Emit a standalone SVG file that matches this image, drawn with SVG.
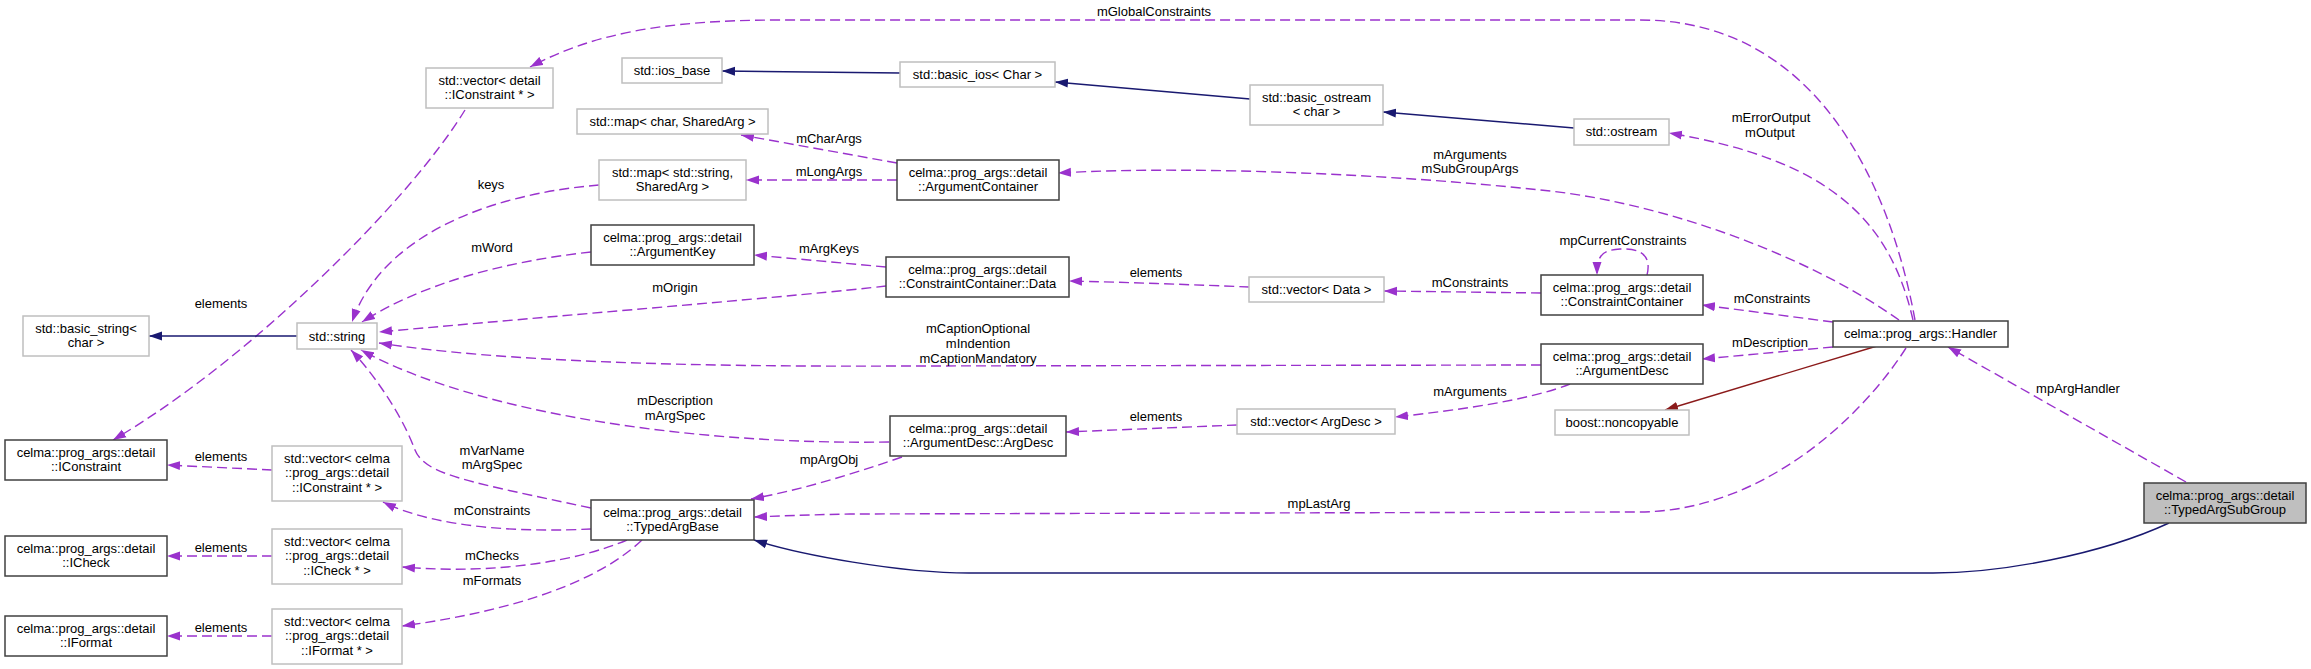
<svg xmlns="http://www.w3.org/2000/svg" width="2311" height="669" viewBox="0 0 2311 669">
<style>
text{font-family:"Liberation Sans",Arial,Helvetica,sans-serif;font-size:13px;fill:#000;text-anchor:middle}
.doc{fill:#fff;stroke:#404040;stroke-width:1.5}
.ext{fill:#fff;stroke:#bfbfbf;stroke-width:1.5}
.sel{fill:#bfbfbf;stroke:#404040;stroke-width:1.5}
.use{fill:none;stroke:#9a32cd;stroke-width:1.4;stroke-dasharray:10,5;marker-end:url(#ap)}
.inh{fill:none;stroke:#191970;stroke-width:1.4;marker-end:url(#ab)}
.priv{fill:none;stroke:#8b1a1a;stroke-width:1.4;marker-end:url(#ar)}
</style>
<defs>
<marker id="ap" markerUnits="userSpaceOnUse" markerWidth="14" markerHeight="10" refX="13" refY="5" orient="auto"><path d="M0,0.5 L13,5 L0,9.5 z" fill="#9a32cd"/></marker>
<marker id="ab" markerUnits="userSpaceOnUse" markerWidth="14" markerHeight="10" refX="13" refY="5" orient="auto"><path d="M0,0.5 L13,5 L0,9.5 z" fill="#191970"/></marker>
<marker id="ar" markerUnits="userSpaceOnUse" markerWidth="14" markerHeight="10" refX="13" refY="5" orient="auto"><path d="M0,0.5 L13,5 L0,9.5 z" fill="#8b1a1a"/></marker>
</defs>
<rect width="2311" height="669" fill="#fff"/>
<g id="edges">
<path class="use" d="M1915,320 C1895,210 1830,20 1640,20 L780,20 C660,20 590,35 530,67"/>
<text x="1154" y="16">mGlobalConstraints</text>
<path class="use" d="M465,110 C410,200 250,360 113,440"/>
<text x="221" y="308">elements</text>
<path class="inh" d="M297,336 L149,336"/>
<path class="use" d="M599,185 C480,195 380,240 352,322"/>
<text x="491" y="189">keys</text>
<path class="use" d="M591,252 C500,262 420,285 362,322"/>
<text x="492" y="252">mWord</text>
<path class="use" d="M886,286 C800,296 600,312 379,332"/>
<text x="675" y="292">mOrigin</text>
<path class="use" d="M1541,365 L900,366 C700,367 500,362 379,343"/>
<text x="978" y="333">mCaptionOptional</text>
<text x="978" y="348">mIndention</text>
<text x="978" y="363">mCaptionMandatory</text>
<path class="use" d="M889,442 C700,445 480,415 361,350"/>
<text x="675" y="405">mDescription</text>
<text x="675" y="420">mArgSpec</text>
<path class="use" d="M591,508 C470,482 425,475 415,450 C400,410 370,370 351,350"/>
<text x="492" y="455">mVarName</text>
<text x="492" y="469">mArgSpec</text>
<path class="use" d="M272,470 L167,465"/>
<text x="221" y="461">elements</text>
<path class="use" d="M272,556 L167,556"/>
<text x="221" y="552">elements</text>
<path class="use" d="M272,636 L167,636"/>
<text x="221" y="632">elements</text>
<path class="use" d="M591,529 C530,532 440,530 383,502"/>
<text x="492" y="515">mConstraints</text>
<path class="use" d="M627,540 C580,560 500,575 402,567"/>
<text x="492" y="560">mChecks</text>
<path class="use" d="M642,540 C600,580 520,610 402,626"/>
<text x="492" y="585">mFormats</text>
<path class="use" d="M897,163 L741,135"/>
<text x="829" y="143">mCharArgs</text>
<path class="use" d="M897,180 L746,180"/>
<text x="829" y="176">mLongArgs</text>
<path class="use" d="M886,267 L754,255"/>
<text x="829" y="253">mArgKeys</text>
<path class="use" d="M1249,287 C1200,285 1120,282 1069,281"/>
<text x="1156" y="277">elements</text>
<path class="use" d="M1541,293 L1384,291"/>
<text x="1470" y="287">mConstraints</text>
<path class="use" d="M1647,275 C1652,255 1640,248 1620,249 C1600,250 1597,258 1597,275"/>
<text x="1623" y="245">mpCurrentConstraints</text>
<path class="use" d="M1899,320 C1800,250 1650,200 1540,190 C1400,175 1200,165 1058,173"/>
<text x="1470" y="159">mArguments</text>
<text x="1470" y="173">mSubGroupArgs</text>
<path class="use" d="M1913,320 C1890,220 1830,160 1669,133"/>
<text x="1771" y="122">mErrorOutput</text>
<text x="1770" y="137">mOutput</text>
<path class="use" d="M1833,322 L1702,305"/>
<text x="1772" y="303">mConstraints</text>
<path class="use" d="M1833,347 L1702,359"/>
<text x="1770" y="347">mDescription</text>
<path class="priv" d="M1877,346 L1665,410"/>
<path class="use" d="M1906,348 C1860,420 1760,512 1638,512 L850,514 C800,515 780,516 754,517"/>
<text x="1319" y="508">mpLastArg</text>
<path class="use" d="M1570,384 C1530,400 1460,410 1395,417"/>
<text x="1470" y="396">mArguments</text>
<path class="use" d="M1237,425 L1066,432"/>
<text x="1156" y="421">elements</text>
<path class="use" d="M902,457 C850,475 800,490 751,499"/>
<text x="829" y="464">mpArgObj</text>
<path class="use" d="M2186,482 L1948,347"/>
<text x="2078" y="393">mpArgHandler</text>
<path class="inh" d="M2169,523 C2100,555 2000,573 1933,573 L969,573 C900,573 800,555 754,540"/>
<path class="inh" d="M1250,99 L1055,82"/>
<path class="inh" d="M900,73 L722,71"/>
<path class="inh" d="M1574,128 L1383,112"/>
</g>
<g id="n_vecIConstraintD"><rect class="ext" x="426" y="68" width="127" height="40"/><text x="489.5" y="84.5">std::vector&lt; detail</text><text x="489.5" y="99">::IConstraint * &gt;</text></g>
<g id="n_ios_base"><rect class="ext" x="622" y="58" width="100" height="25"/><text x="672" y="75">std::ios_base</text></g>
<g id="n_map_char"><rect class="ext" x="577" y="109" width="191" height="25"/><text x="672.5" y="126">std::map&lt; char, SharedArg &gt;</text></g>
<g id="n_map_string"><rect class="ext" x="599" y="160" width="147" height="40"/><text x="672.5" y="176.5">std::map&lt; std::string,</text><text x="672.5" y="191">SharedArg &gt;</text></g>
<g id="n_ArgumentKey"><rect class="doc" x="591" y="225" width="163" height="40"/><text x="672.5" y="241.5">celma::prog_args::detail</text><text x="672.5" y="256">::ArgumentKey</text></g>
<g id="n_basic_string"><rect class="ext" x="23" y="316" width="126" height="40"/><text x="86" y="332.5">std::basic_string&lt;</text><text x="86" y="347">char &gt;</text></g>
<g id="n_string"><rect class="ext" x="297" y="323" width="80" height="26"/><text x="337" y="340.5">std::string</text></g>
<g id="n_IConstraint"><rect class="doc" x="5" y="440" width="162" height="40"/><text x="86" y="456.5">celma::prog_args::detail</text><text x="86" y="471">::IConstraint</text></g>
<g id="n_vecIConstraint"><rect class="ext" x="272" y="446" width="130" height="55"/><text x="337" y="462.5">std::vector&lt; celma</text><text x="337" y="477">::prog_args::detail</text><text x="337" y="491.5">::IConstraint * &gt;</text></g>
<g id="n_ICheck"><rect class="doc" x="5" y="536" width="162" height="40"/><text x="86" y="552.5">celma::prog_args::detail</text><text x="86" y="567">::ICheck</text></g>
<g id="n_vecICheck"><rect class="ext" x="272" y="529" width="130" height="55"/><text x="337" y="545.5">std::vector&lt; celma</text><text x="337" y="560">::prog_args::detail</text><text x="337" y="574.5">::ICheck * &gt;</text></g>
<g id="n_IFormat"><rect class="doc" x="5" y="616" width="162" height="40"/><text x="86" y="632.5">celma::prog_args::detail</text><text x="86" y="647">::IFormat</text></g>
<g id="n_vecIFormat"><rect class="ext" x="272" y="609" width="130" height="55"/><text x="337" y="625.5">std::vector&lt; celma</text><text x="337" y="640">::prog_args::detail</text><text x="337" y="654.5">::IFormat * &gt;</text></g>
<g id="n_TypedArgBase"><rect class="doc" x="591" y="500" width="163" height="40"/><text x="672.5" y="516.5">celma::prog_args::detail</text><text x="672.5" y="531">::TypedArgBase</text></g>
<g id="n_basic_ios"><rect class="ext" x="900" y="62" width="155" height="25"/><text x="977.5" y="79">std::basic_ios&lt; Char &gt;</text></g>
<g id="n_basic_ostream"><rect class="ext" x="1250" y="85" width="133" height="40"/><text x="1316.5" y="101.5">std::basic_ostream</text><text x="1316.5" y="116">&lt; char &gt;</text></g>
<g id="n_ArgumentContainer"><rect class="doc" x="897" y="160" width="162" height="40"/><text x="978" y="176.5">celma::prog_args::detail</text><text x="978" y="191">::ArgumentContainer</text></g>
<g id="n_Data"><rect class="doc" x="886" y="257" width="183" height="40"/><text x="977.5" y="273.5">celma::prog_args::detail</text><text x="977.5" y="288">::ConstraintContainer::Data</text></g>
<g id="n_vecData"><rect class="ext" x="1249" y="277" width="135" height="25"/><text x="1316.5" y="294">std::vector&lt; Data &gt;</text></g>
<g id="n_ArgDesc"><rect class="doc" x="890" y="416" width="176" height="40"/><text x="978" y="432.5">celma::prog_args::detail</text><text x="978" y="447">::ArgumentDesc::ArgDesc</text></g>
<g id="n_vecArgDesc"><rect class="ext" x="1237" y="409" width="158" height="25"/><text x="1316" y="426">std::vector&lt; ArgDesc &gt;</text></g>
<g id="n_ostream"><rect class="ext" x="1574" y="119" width="95" height="26"/><text x="1621.5" y="136">std::ostream</text></g>
<g id="n_ConstraintContainer"><rect class="doc" x="1541" y="275" width="162" height="40"/><text x="1622" y="291.5">celma::prog_args::detail</text><text x="1622" y="306">::ConstraintContainer</text></g>
<g id="n_Handler"><rect class="doc" x="1833" y="321" width="175" height="26"/><text x="1920.5" y="338">celma::prog_args::Handler</text></g>
<g id="n_ArgumentDesc"><rect class="doc" x="1541" y="344" width="162" height="40"/><text x="1622" y="360.5">celma::prog_args::detail</text><text x="1622" y="375">::ArgumentDesc</text></g>
<g id="n_noncopyable"><rect class="ext" x="1555" y="410" width="134" height="25"/><text x="1622" y="427">boost::noncopyable</text></g>
<g id="n_TypedArgSubGroup"><rect class="sel" x="2144" y="483" width="162" height="40"/><text x="2225" y="499.5">celma::prog_args::detail</text><text x="2225" y="514">::TypedArgSubGroup</text></g>
</svg>
